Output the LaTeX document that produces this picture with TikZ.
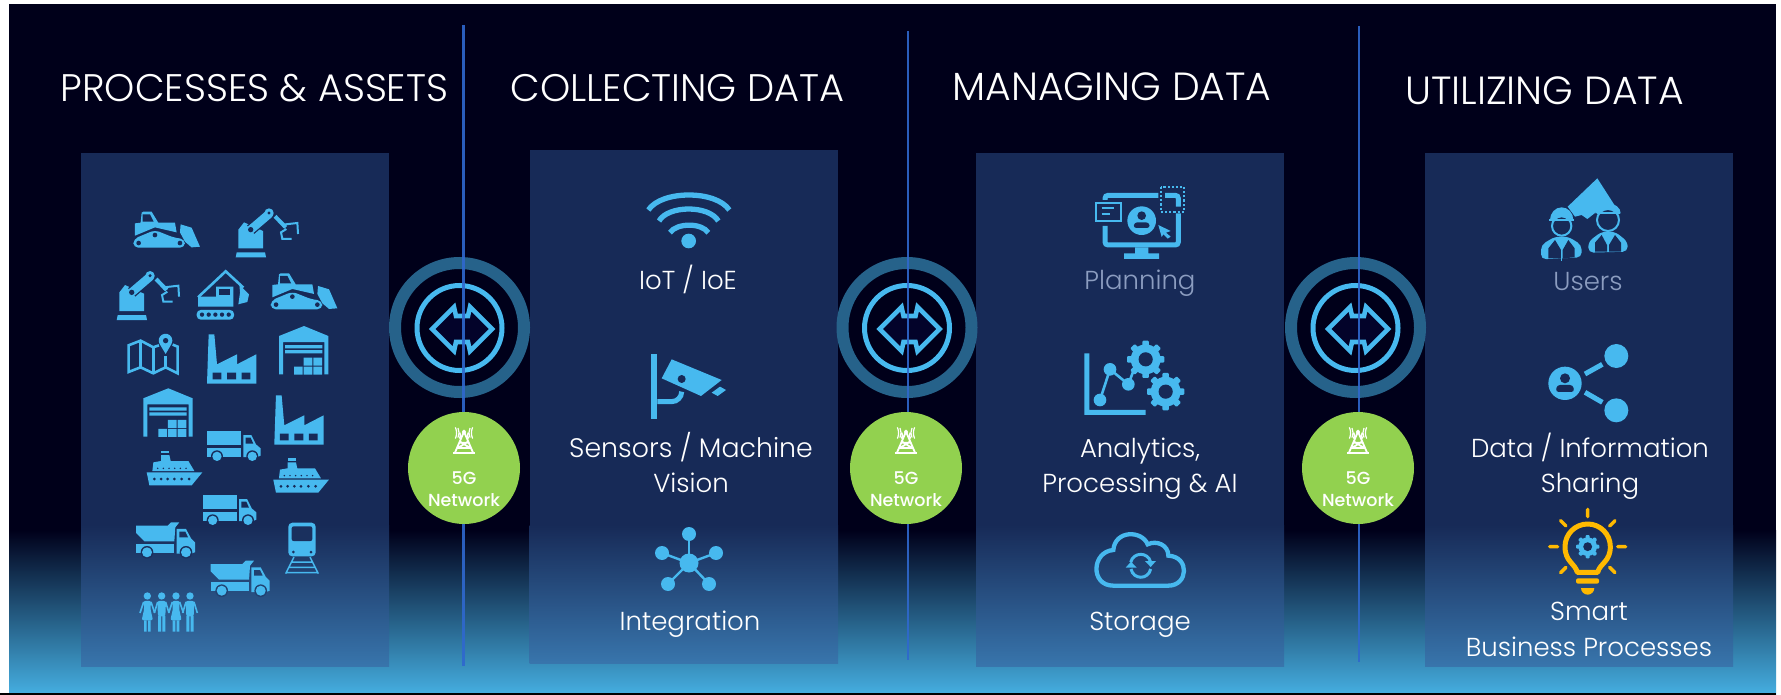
\documentclass[tikz,border=0pt]{standalone}
\usepackage{fontspec}
\setmainfont{Poppins}[UprightFont=* Light,BoldFont=* Medium]
\definecolor{bgd}{HTML}{00001A}
\definecolor{bgb}{HTML}{45AEE0}
\definecolor{pan}{HTML}{172A57}
\definecolor{panb}{HTML}{3875AC}
\definecolor{ic}{HTML}{47B9EF}
\definecolor{ringc}{HTML}{26628A}
\definecolor{linec}{HTML}{2F68CE}
\definecolor{grn}{HTML}{92D14F}
\definecolor{ylw}{HTML}{FFB900}
\definecolor{dim}{HTML}{8C9DC0}
\definecolor{arrin}{HTML}{03032A}
\tikzset{
  zoomed/.style={x=0.33333pt,y=-0.33333pt},
  title/.style={text=white,font=\fontsize{38.4}{44}\selectfont,inner sep=0pt,anchor=base},
  bigtitle/.style={text=white,font=\fontsize{39.3}{45}\selectfont,inner sep=0pt,anchor=base},
  lab/.style={text=white,font=\fontsize{26}{30}\selectfont,inner sep=0pt,anchor=base},
  widelab/.style={text=white,font=\fontsize{26.8}{30}\selectfont,inner sep=0pt,anchor=base},
  dimlab/.style={text=dim,font=\fontsize{26}{30}\selectfont,inner sep=0pt,anchor=base},
  gtext/.style={text=white,font=\bfseries\fontsize{17.5}{20}\selectfont,inner sep=0pt,anchor=base},
  ring/.style={circle,draw=ringc,line width=12pt,minimum size=129pt,inner sep=0pt},
  innerring/.style={circle,draw=ic,line width=5pt,minimum size=85pt,inner sep=0pt},
  gcirc/.style={circle,fill=grn,minimum size=112pt,inner sep=0pt},
  vline/.style={linec,line width=2.1pt,opacity=0.9},
}
\newcommand{\icBulldozer}[3]{\begin{scope}[shift={(#1,#2)},zoomed]
 \fill[ic] (5,35)--(22,33)--(25,3)--(30,0)--(55,0)--(75,33)--(125,33)--(130,62)--(65,47)--(5,72)--cycle;
 \fill[#3] (28,8)--(50,8)--(61,30)--(28,30)--cycle;
 \fill[ic,rounded corners=5pt] (0,108)--(0,82)--(65,55)--(122,78)--(155,82)--(155,108)--cycle;
 \fill[#3] (16,94) circle (7) (65,70) circle (7) (140,94) circle (7);
 \fill[ic] (142,38)--(175,48)--(200,105)--(175,107)--(155,90)--(140,62)--cycle;
\end{scope}}
\newcommand{\icRobot}[3]{\begin{scope}[shift={(#1,#2)},zoomed]
 \fill[ic] (3,130)--(88,130)--(91,145)--(0,145)--cycle;
 \fill[ic] (8,118)--(8,62)--(25,40)--(82,66)--(82,118)--cycle;
 \draw[#3,line width=11pt] (45,62)--(100,15);
 \draw[ic,line width=8.5pt,line cap=round] (45,62)--(100,15);
 \fill[#3] (45,62) circle (8);
 \fill[ic] (100,12) circle (14);
 \fill[#3] (100,12) circle (5);
 \draw[ic,line width=4pt] (118,22)--(150,55);
 \draw[ic,line width=2pt] (142,55)--(150,46)--(185,42)--(187,75);
 \draw[ic,line width=2pt] (152,60)--(136,70)--(140,90)--(168,90);
\end{scope}}
\newcommand{\icExcavator}[3]{\begin{scope}[shift={(#1,#2)},zoomed]
 \draw[ic,line width=2.6pt] (4,84)--(87,6)--(140,55);
 \fill[ic] (128,46)--(157,75)--(152,98)--(125,105)--(130,70)--cycle;
 \fill[ic] (4,82)--(58,82)--(58,52)--(110,52)--(110,112)--(4,112)--cycle;
 \fill[#3] (67,59)--(101,59)--(101,78)--(67,78)--cycle;
 \fill[ic,rounded corners=4pt] (0,122) rectangle (112,151);
 \foreach \q in {16,36,56,76,96}{\fill[#3] (\q,136) circle (6.5);}
\end{scope}}
\newcommand{\icMap}[3]{\begin{scope}[shift={(#1,#2)},zoomed]
 \draw[ic,line width=2.6pt,line join=miter] (95,36)--(78,42)--(40,22)--(4,36)--(4,116)--(40,102)--(78,120)--(115,102)--(151,120)--(151,40)--(136,34);
 \draw[ic,line width=2.6pt] (40,22)--(40,102) (78,42)--(78,120) (115,68)--(115,102);
 \fill[ic] (115,62)--(97,32) arc (150:390:20.5)--cycle;
 \fill[#3] (115,22) circle (8);
\end{scope}}
\newcommand{\icFactory}[3]{\begin{scope}[shift={(#1,#2)},zoomed]
 \fill[ic] (5,0)--(22,0)--(30,90)--(90,60)--(90,90)--(148,60)--(148,148)--(0,148)--cycle;
 \fill[#3] (17,115) rectangle (43,135) (60,115) rectangle (87,135) (104,115) rectangle (130,135);
\end{scope}}
\newcommand{\icWarehouse}[3]{\begin{scope}[shift={(#1,#2)},zoomed]
 \fill[ic] (0,30)--(75,0)--(148,30)--(148,145)--(136,145)--(136,48)--(12,48)--(12,145)--(0,145)--cycle;
 \fill[ic] (18,57) rectangle (130,67) (18,72) rectangle (130,82);
 \fill[ic] (74,95) rectangle (100,119) (103,95) rectangle (129,119) (45,122) rectangle (71,146) (74,122) rectangle (100,146) (103,122) rectangle (129,146);
\end{scope}}
\newcommand{\icTruck}[3]{\begin{scope}[shift={(#1,#2)},zoomed]
 \fill[ic] (0,0) rectangle (102,43);
 \fill[ic] (0,50) rectangle (102,77);
 \fill[ic] (108,12)--(132,12)--(146,40)--(160,52)--(160,74)--(150,78)--(108,78)--cycle;
 \fill[#3] (115,20)--(130,20)--(138,38)--(115,38)--cycle;
 \fill[#3] (29,76) circle (18) (135,76) circle (18);
 \fill[ic] (29,76) circle (14) (135,76) circle (14);
\end{scope}}
\newcommand{\icShip}[3]{\begin{scope}[shift={(#1,#2)},zoomed]
 \fill[ic] (0,64)--(167,64)--(135,103)--(8,103)--cycle;
 \foreach \q in {23,43,63,83,105,127}{\fill[#3] (\q,84) circle (4.5);}
 \fill[ic] (17,60)--(20,34)--(43,30)--(43,12)--(68,12)--(72,30)--(125,30)--(143,60)--cycle;
 \foreach \q in {33,50,67,84,101,118}{\fill[#3] (\q,52) circle (2.5);}
 \fill[ic] (43,0) rectangle (67,7);
\end{scope}}
\newcommand{\icDump}[3]{\begin{scope}[shift={(#1,#2)},zoomed]
 \fill[ic] (0,10)--(95,10)--(105,0)--(130,0)--(118,15)--(115,57)--(25,57)--(0,32)--cycle;
 \fill[ic] (0,65) rectangle (115,92);
 \fill[ic] (122,20)--(150,20)--(165,48)--(177,60)--(177,90)--(165,94)--(122,94)--cycle;
 \fill[#3] (130,28)--(148,28)--(156,45)--(130,45)--cycle;
 \fill[#3] (33,90) circle (19) (150,90) circle (19);
 \fill[ic] (33,90) circle (15) (150,90) circle (15);
\end{scope}}
\newcommand{\icTrain}[3]{\begin{scope}[shift={(#1,#2)},zoomed]
 \fill[ic,rounded corners=4pt] (10,0) rectangle (92,101);
 \fill[#3,rounded corners=2pt] (20,11) rectangle (82,55);
 \fill[#3] (25,88) circle (4.5) (78,88) circle (4.5);
 \draw[ic,line width=1.5pt] (27,103)--(2,153) (75,103)--(100,153) (20,118)--(82,118) (13,134)--(89,134) (5,150)--(97,150);
\end{scope}}
\newcommand{\icPeople}[3]{\begin{scope}[shift={(#1,#2)},zoomed]
 \foreach \q in {25,111}{\begin{scope}[shift={(\q,0)}]
  \fill[ic] (0,11) circle (11);
  \fill[ic,rounded corners=2pt] (-12,26)--(12,26)--(9,48)--(17,84)--(-17,84)--(-9,48)--cycle;
  \fill[ic] (-10,84) rectangle (-2,118) (2,84) rectangle (10,118);
  \draw[ic,line width=1.6pt] (-11,29)--(-22,62) (11,29)--(22,62);
 \end{scope}}
 \foreach \q in {68,153}{\begin{scope}[shift={(\q,0)}]
  \fill[ic] (0,11) circle (11);
  \fill[ic,rounded corners=2pt] (-13,26)--(13,26)--(11,72)--(-11,72)--cycle;
  \fill[ic] (-11,70) rectangle (-2,118) (2,70) rectangle (11,118);
  \draw[ic,line width=1.6pt] (-12,29)--(-22,62) (12,29)--(22,62);
 \end{scope}}
\end{scope}}
\newcommand{\icGear}[4]{%
 \begin{scope}[shift={(#1,#2)}]
  \pgfmathsetmacro{\gr}{#3*0.8}
  \fill[ic] (0,0) circle (\gr);
  \foreach \q in {0,45,...,315}{\fill[ic,rotate=\q,rounded corners=1pt] (-#3*0.2,0) -- (-#3*0.17,#3) -- (#3*0.17,#3) -- (#3*0.2,0) -- cycle;}
  \fill[#4] (0,0) circle (#3*0.38);
 \end{scope}}
\begin{document}
\begin{tikzpicture}[x=1pt,y=-1pt]
\useasboundingbox (0,0) rectangle (1781,695);
\fill[white] (0,0) rectangle (1781,695);
% background
\fill[bgd] (9,4) rectangle (1776,530);
\fill[top color=bgd,bottom color=bgb,shading angle=0] (9,530) rectangle (1776,694);
\fill[black] (0,693.4) rectangle (1776,694.6);
% panels
\foreach \xl/\xr/\yt/\yb in {81/389/153/666,529.5/838/150/663,976/1284/153/666,1425/1733/153/666}{
 \fill[pan] (\xl,\yt) rectangle (\xr,525);
 \fill[top color=pan,bottom color=panb] (\xl,525) rectangle (\xr,\yb);
}
% titles
\node[title] (t1) at (254.5,101.7) {PROCESSES \& ASSETS};
\node[title] (t2) at (677.5,101.7) {COLLECTING DATA};
\node[bigtitle] (t3) at (1112,100.7) {MANAGING DATA};
\node[bigtitle] (t4) at (1544.5,105) {UTILIZING DATA};
% connection rings
\foreach \n/\cx in {a/459.5,b/907,c/1355.5}{
 \node[ring] (ring\n) at (\cx,327.5) {};
 \node[innerring] (inner\n) at (\cx,328) {};
 \begin{scope}[shift={(\cx+2.5,329)}]
  \draw[ic,fill=arrin,line width=4.6pt,line join=miter] (-30,0)--(-8,-22)--(-6,-13)--(6,-13)--(8,-22)--(30,0)--(8,22)--(6,13)--(-6,13)--(-8,22)--cycle;
 \end{scope}
}
% dividers
\coordinate (la) at (463.5,25); \coordinate (lb) at (463.5,666);
\coordinate (ma) at (908,31);   \coordinate (mb) at (908,660);
\coordinate (ra) at (1359,26);  \coordinate (rb) at (1359,662);
\draw[vline] (la)--(lb);
\draw[vline] (ma)--(mb);
\draw[vline] (ra)--(rb);
% 5G circles
\foreach \n/\cx in {a/464,b/906,c/1358}{
 \node[gcirc] (g\n) at (\cx,468) {};
 \begin{scope}[shift={(\cx,440)},zoomed]
  \draw[white,line width=1.8pt] (-28,40)--(0,-25)--(28,40) (-14,8)--(14,8) (-22,24)--(22,24) (-18,24)--(10,6) (18,24)--(-10,6);
  \draw[white,line width=1.6pt] (-13,-22) arc (150:210:-18) (13,-22) arc (30:-30:-18);
  \fill[white] (0,-24) circle (6);
  \draw[white,line width=1.2pt] (-18,-36) arc (155:205:-34) (18,-36) arc (25:-25:-34);
  \draw[white,line width=1.2pt] (-26,-38) arc (155:205:-40) (26,-38) arc (25:-25:-40);
  \draw[white,line width=2.2pt] (-33,40)--(33,40);
 \end{scope}
 \node[gtext] at (\cx,484) {5G};
 \node[gtext] at (\cx,506) {Network};
}
% panel 1
\icBulldozer{133.3}{211.7}{pan}
\icRobot{235.7}{209}{pan}
\icRobot{116.7}{271.7}{pan}
\icExcavator{196.7}{269.3}{pan}
\icBulldozer{270.7}{273.3}{pan}
\icMap{127.3}{333.3}{pan}
\icFactory{207}{334.3}{pan}
\icWarehouse{279}{326}{pan}
\icWarehouse{143.3}{388.3}{pan}
\icTruck{207.3}{431}{pan}
\icFactory{274.3}{395.3}{pan}
\icShip{146.7}{451}{pan}
\icShip{273.3}{458.3}{pan}
\icTruck{203}{495}{pan}
\icDump{136}{522.3}{pan!92!panb}
\icTrain{285}{522.7}{pan!92!panb}
\icDump{210.7}{560.7}{pan!70!panb}
\icPeople{139}{592.3}{pan!50!panb}
% panel 2
\begin{scope}[shift={(540,170)},zoomed]
 \fill[ic] (446,213) circle (22);
 \draw[ic,line width=5.3pt] (325,120) .. controls (365,60) and (528,60) .. (568,120);
 \draw[ic,line width=5.3pt] (357,153) .. controls (385,105) and (507,105) .. (535,153);
 \draw[ic,line width=5.3pt] (390,188) .. controls (410,158) and (485,158) .. (505,188);
 \fill[ic] (334,552) rectangle (352,746);
 \draw[ic,line width=5pt] (352,695) -- (395,695) arc (90:0:30);
 \fill[ic] (395,568)--(545,630)--(483,678)--(365,625)--cycle;
 \fill[pan] (425,627) circle (12);
 \fill[ic] (515,668)--(540,650)--(558,660)--(533,678)--cycle;
\end{scope}
\node[lab] (n21) at (688,290) {IoT / IoE};
\node[widelab] (n22) at (691,457) {Sensors / Machine};
\node[lab] (n23) at (691,492.7) {Vision};
\coordinate (hub) at (689,563);
\foreach \n/\px/\py in {a/689/534,b/662/553,c/716/553,d/668/584,e/709/584}{
 \coordinate (s\n) at (\px,\py);
 \draw[ic,line width=2.4pt] (hub)--(s\n);
 \fill[ic] (s\n) circle (7);
}
\fill[ic] (hub) circle (9.5);
\node[lab] (n24) at (690,630) {Integration};
% panel 3
\begin{scope}[shift={(1040,170)},zoomed]
 \draw[ic,line width=5pt,rounded corners=3pt] (355,76)--(195,76)--(195,90);
 \draw[ic,line width=5pt,rounded corners=3pt] (195,168)--(195,225)--(415,225)--(415,130);
 \draw[ic,line width=5pt,rounded corners=3pt] (375,76)--(415,76)--(415,110);
 \fill[ic] (285,232) rectangle (325,252) (252,250) rectangle (357,267);
 \fill[pan] (160,90) rectangle (250,160);
 \draw[ic,line width=2pt] (169,98) rectangle (244,153);
 \draw[ic,line width=2.2pt] (185,115)--(222,115) (185,132)--(210,132);
 \fill[ic] (305,152) circle (43);
 \fill[pan] (305,137) circle (13);
 \fill[pan,rounded corners=3pt] (280,174)--(283,157)--(327,157)--(330,174)--cycle;
 \fill[ic] (355,165)--(392,183)--(378,188)--(392,200)--(383,206)--(370,193)--(365,201)--cycle;
 \draw[ic,line width=2.2pt,dash pattern=on 2.2pt off 2pt] (362,50) rectangle (433,125);
 % analytics
 \fill[ic] (133,550) rectangle (148,735) (133,720) rectangle (317,735);
 \draw[ic,line width=2.6pt] (180,690)--(210,598)--(265,643)--(285,590);
 \fill[ic] (180,690) circle (19) (210,598) circle (19) (265,643) circle (19);
 \icGear{317}{568}{56}{pan}
 \icGear{377}{665}{56}{pan}
\end{scope}
\node[dimlab] (n31) at (1140,290) {Planning};
\node[lab] (n32) at (1140,457) {Analytics,};
\node[lab] (n33) at (1140,492.7) {Processing \& AI};
\begin{scope}[shift={(1085,525)},zoomed]
 \draw[ic,line width=4.3pt] (85,182) -- (250,182) .. controls (310,182) and (315,95) .. (250,92) .. controls (250,60) and (215,45) .. (188,58) .. controls (170,15) and (90,15) .. (85,75) .. controls (20,80) and (15,182) .. (85,182) -- cycle;
 \draw[ic,line width=3pt] (137,112) .. controls (145,80) and (190,80) .. (197,112);
 \draw[ic,line width=3pt] (197,132) .. controls (190,165) and (145,165) .. (138,132);
 \fill[ic] (180,108)--(213,108)--(197,126)--cycle;
 \fill[ic] (122,128)--(155,128)--(138,110)--cycle;
\end{scope}
\node[lab] (n34) at (1140,630) {Storage};
% panel 4
\begin{scope}[shift={(1480,170)},zoomed]
 \fill[ic] (263,110)--(352,25)--(418,128)--(350,125)--(322,147)--(305,135)--(285,140)--cycle;
 % left worker
 \fill[ic] (210,150) arc (180:360:35 and 38) -- cycle;
 \draw[ic,line width=2pt,fill=pan] (245,168) circle (29);
 \fill[ic] (207,146) rectangle (283,153);
 \fill[ic,rounded corners=5pt] (183,268)--(183,225)--(225,200)--(265,200)--(305,225)--(305,262)--cycle;
 \fill[pan] (205,265)--(205,235)--(225,210)--(243,240)--(243,265)--cycle;
 \fill[pan] (284,262)--(284,235)--(265,210)--(248,240)--(248,265)--cycle;
 \draw[ic,line width=1pt] (245,205)--(245,272);
 % right worker
 \fill[ic] (346,130) arc (180:360:38 and 30) -- cycle;
 \draw[ic,line width=2pt,fill=pan] (384,150) circle (33);
 \fill[ic] (350,126) rectangle (420,133);
 \fill[ic,rounded corners=5pt] (325,248)--(325,215)--(365,185)--(405,185)--(443,215)--(443,245)--cycle;
 \fill[pan] (345,245)--(345,218)--(365,195)--(381,225)--(381,245)--cycle;
 \fill[pan] (423,245)--(423,218)--(405,195)--(387,225)--(387,245)--cycle;
 % share
 \fill[ic] (255,640) circle (50);
 \fill[pan] (255,625) circle (15);
 \fill[pan,rounded corners=3pt] (227,666)--(231,645)--(279,645)--(283,666)--cycle;
 \fill[ic] (409,558) circle (36) (409,721) circle (36);
 \draw[ic,line width=5pt] (315,612)--(367,583) (315,667)--(367,697);
\end{scope}
\begin{scope}[shift={(1480,440)},zoomed]
 \draw[ylw,line width=3.4pt,line cap=round] (323,208)--(323,230) (242,242)--(258,258) (405,242)--(389,258) (209,320)--(233,320) (413,320)--(437,320) (242,398)--(258,382) (405,398)--(389,382);
 \draw[ylw,line width=5pt,line join=round] (292,397) .. controls (285,370) and (255,365) .. (255,320) arc (180:360:68) .. controls (391,365) and (360,370) .. (353,397) -- cycle;
 \fill[ylw,rounded corners=2pt] (288,415) rectangle (357,431);
 \fill[ylw] (303,444)--(343,444) arc (0:180:20)--cycle;
 \icGear{323}{320}{35}{pan}
\end{scope}
\node[dimlab] (n41) at (1588,290.7) {Users};
\node[lab] (n42) at (1590,457) {Data / Information};
\node[lab] (n43) at (1590,492) {Sharing};
\node[lab] (n44) at (1589,620.7) {Smart};
\node[lab] (n45) at (1589,656) {Business Processes};
\end{tikzpicture}
\end{document}
